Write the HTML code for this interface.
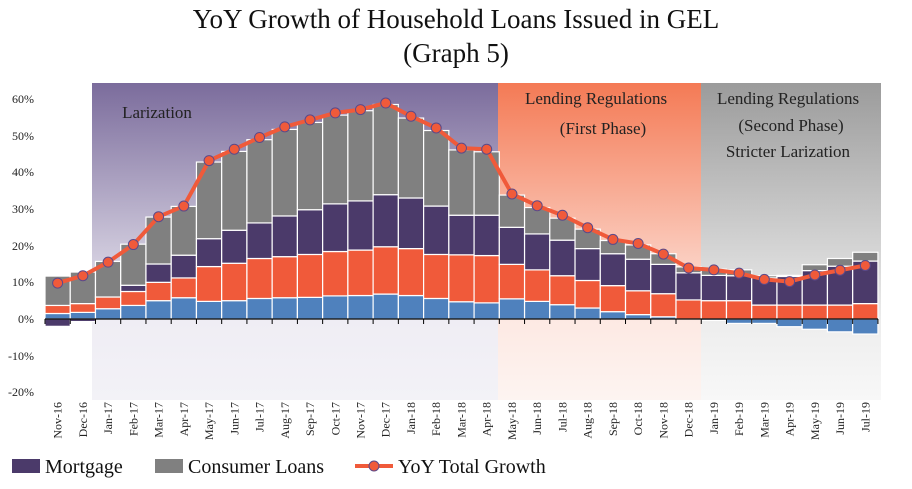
<!DOCTYPE html>
<html><head><meta charset="utf-8"><style>
body{margin:0;background:#fff}
svg{display:block;font-family:"Liberation Serif",serif}
</style></head><body>
<svg id="s" width="912" height="489" viewBox="0 0 912 489">
<defs>
<linearGradient id="gp" x1="0" y1="0" x2="0" y2="1"><stop offset="0" stop-color="#7b6c9c"/><stop offset="0.75" stop-color="#efedf4"/><stop offset="1" stop-color="#f3f2f7"/></linearGradient>
<linearGradient id="go" x1="0" y1="0" x2="0" y2="1"><stop offset="0" stop-color="#f47a55"/><stop offset="0.75" stop-color="#fde9e3"/><stop offset="1" stop-color="#fdf4f1"/></linearGradient>
<linearGradient id="gg" x1="0" y1="0" x2="0" y2="1"><stop offset="0" stop-color="#9b9b9b"/><stop offset="0.75" stop-color="#ededed"/><stop offset="1" stop-color="#f8f8f8"/></linearGradient>
</defs>
<rect x="92" y="83" width="406" height="317" fill="url(#gp)"/>
<rect x="498" y="83" width="203" height="317" fill="url(#go)"/>
<rect x="701" y="83" width="180" height="317" fill="url(#gg)"/>
<text x="456" y="28" font-size="27" text-anchor="middle" fill="#111">YoY Growth of Household Loans Issued in GEL</text>
<text x="456" y="62" font-size="27" text-anchor="middle" fill="#111">(Graph 5)</text>
<text x="157" y="118" font-size="17" text-anchor="middle" fill="#222">Larization</text>
<text x="596" y="104" font-size="17" text-anchor="middle" fill="#222">Lending Regulations</text>
<text x="603" y="134" font-size="17" text-anchor="middle" fill="#222">(First Phase)</text>
<text x="788" y="104" font-size="17" text-anchor="middle" fill="#222">Lending Regulations</text>
<text x="791" y="131" font-size="17" text-anchor="middle" fill="#222">(Second Phase)</text>
<text x="788" y="157" font-size="17" text-anchor="middle" fill="#222">Stricter Larization</text>
<g font-size="12" text-anchor="end" fill="#222">
<text x="34" y="103">60%</text><text x="34" y="140">50%</text><text x="34" y="176">40%</text><text x="34" y="213">30%</text><text x="34" y="250">20%</text><text x="34" y="286">10%</text><text x="34" y="323">0%</text><text x="34" y="360">-10%</text><text x="34" y="396">-20%</text>
</g>
<g id="bars"></g>
<g id="axis"></g>
<g id="line"></g>
<g font-size="12" text-anchor="end" fill="#222">
<text transform="translate(61.6,402) rotate(-90)">Nov-16</text>
<text transform="translate(86.9,402) rotate(-90)">Dec-16</text>
<text transform="translate(112.1,402) rotate(-90)">Jan-17</text>
<text transform="translate(137.3,402) rotate(-90)">Feb-17</text>
<text transform="translate(162.6,402) rotate(-90)">Mar-17</text>
<text transform="translate(187.8,402) rotate(-90)">Apr-17</text>
<text transform="translate(213.1,402) rotate(-90)">May-17</text>
<text transform="translate(238.3,402) rotate(-90)">Jun-17</text>
<text transform="translate(263.5,402) rotate(-90)">Jul-17</text>
<text transform="translate(288.8,402) rotate(-90)">Aug-17</text>
<text transform="translate(314.0,402) rotate(-90)">Sep-17</text>
<text transform="translate(339.3,402) rotate(-90)">Oct-17</text>
<text transform="translate(364.5,402) rotate(-90)">Nov-17</text>
<text transform="translate(389.7,402) rotate(-90)">Dec-17</text>
<text transform="translate(415.0,402) rotate(-90)">Jan-18</text>
<text transform="translate(440.2,402) rotate(-90)">Feb-18</text>
<text transform="translate(465.4,402) rotate(-90)">Mar-18</text>
<text transform="translate(490.7,402) rotate(-90)">Apr-18</text>
<text transform="translate(515.9,402) rotate(-90)">May-18</text>
<text transform="translate(541.2,402) rotate(-90)">Jun-18</text>
<text transform="translate(566.4,402) rotate(-90)">Jul-18</text>
<text transform="translate(591.6,402) rotate(-90)">Aug-18</text>
<text transform="translate(616.9,402) rotate(-90)">Sep-18</text>
<text transform="translate(642.1,402) rotate(-90)">Oct-18</text>
<text transform="translate(667.4,402) rotate(-90)">Nov-18</text>
<text transform="translate(692.6,402) rotate(-90)">Dec-18</text>
<text transform="translate(717.8,402) rotate(-90)">Jan-19</text>
<text transform="translate(743.1,402) rotate(-90)">Feb-19</text>
<text transform="translate(768.3,402) rotate(-90)">Mar-19</text>
<text transform="translate(793.6,402) rotate(-90)">Apr-19</text>
<text transform="translate(818.8,402) rotate(-90)">May-19</text>
<text transform="translate(844.0,402) rotate(-90)">Jun-19</text>
<text transform="translate(869.3,402) rotate(-90)">Jul-19</text>
</g>
<rect x="12" y="459" width="28" height="14" fill="#4b3a6a"/>
<text x="45" y="473" font-size="20" fill="#111">Mortgage</text>
<rect x="155" y="459" width="28" height="14" fill="#808080"/>
<text x="188" y="473" font-size="20" fill="#111">Consumer Loans</text>
<line x1="355" y1="466" x2="393" y2="466" stroke="#f05a3a" stroke-width="4"/>
<circle cx="374" cy="466" r="5" fill="#f05a3a" stroke="#5b4a8a" stroke-width="1"/>
<text x="398" y="473" font-size="20" fill="#111">YoY Total Growth</text>
</svg>
<script>
var d=[[1.5,3.7,-2,11.7,9.8],[1.8,4.2,-0.7,12.8,11.8],[2.8,6,6,15.7,15.5],[3.7,7.5,9.2,20.4,20.3],[5,10,15,27.8,27.9],[5.8,11.2,17.4,30.7,30.8],[4.8,14.3,21.9,42.8,43.2],[5,15.2,24.2,45.7,46.3],[5.6,16.5,26.2,48.9,49.5],[5.8,17,28.1,51.7,52.4],[5.9,17.6,29.8,53.6,54.3],[6.3,18.4,31.4,55.6,56.2],[6.4,18.8,32.2,56.8,57.1],[6.8,19.7,33.9,58.5,58.9],[6.4,19.2,33,54.8,55.3],[5.6,17.6,30.8,51.4,52.1],[4.7,17.5,28.3,46.1,46.6],[4.4,17.3,28.3,45.6,46.3],[5.5,14.9,25,33.8,34.1],[4.8,13.4,23.2,30.4,30.9],[3.9,11.8,21.5,27.5,28.3],[3,10.5,19.2,24.5,24.9],[2,9.1,17.8,21.4,21.7],[1.2,7.7,16.3,20.2,20.6],[0.6,6.9,14.9,17.8,17.7],[0,5.2,12.6,14.2,13.9],[-0.4,5,11.9,13.6,13.4],[-1.2,5,11.8,13.4,12.5],[-1.2,3.8,11.2,11.8,10.8],[-2.1,3.8,11.6,11.9,10.2],[-2.8,3.8,13.2,14.8,12],[-3.5,3.8,14.4,16.5,13.3],[-4.1,4.2,15.8,18.2,14.6]];
var NS="http://www.w3.org/2000/svg",W=25.24,X0=45;
function Y(v){return 319-v*3.667}
function r(g,x,y1,y2,c){if(Math.abs(y2-y1)<0.3)return;var e=document.createElementNS(NS,"rect");e.setAttribute("x",x);e.setAttribute("width",W);e.setAttribute("y",Math.min(y1,y2));e.setAttribute("height",Math.abs(y2-y1));e.setAttribute("fill",c);e.setAttribute("stroke","#fff");e.setAttribute("stroke-width","1.2");g.appendChild(e)}
var g=document.getElementById("bars"),pts=[];
d.forEach(function(a,i){var x=X0+i*W;
r(g,x,Y(0),Y(a[0]),"#4f81bd");
var b0=Math.max(a[0],0);r(g,x,Y(b0),Y(a[1]),"#f05a3a");
if(a[2]<0){r(g,x,Y(0),Y(a[2]),"#4b3a6a");r(g,x,Y(a[1]),Y(a[3]),"#808080");}
else{r(g,x,Y(a[1]),Y(a[2]),"#4b3a6a");r(g,x,Y(Math.max(a[2],a[1])),Y(a[3]),"#808080");}
pts.push([x+W/2,Y(a[4])]);});
var ax=document.getElementById("axis"),s='<line x1="45" y1="319" x2="878" y2="319" stroke="#000" stroke-width="1.2"/>';
for(var i=0;i<=33;i++){var x=X0+i*W;s+='<line x1="'+x+'" y1="319" x2="'+x+'" y2="324" stroke="#000"/>';}
ax.innerHTML=s;
var l=document.getElementById("line"),p=pts.map(function(q){return q[0]+","+q[1]}).join(" ");
s='<polyline points="'+p+'" fill="none" stroke="#f05a3a" stroke-width="4" stroke-linejoin="round"/>';
pts.forEach(function(q){s+='<circle cx="'+q[0]+'" cy="'+q[1]+'" r="5" fill="#f05a3a" stroke="#5b4a8a" stroke-width="1"/>';});
l.innerHTML=s;
</script>
</body></html>
